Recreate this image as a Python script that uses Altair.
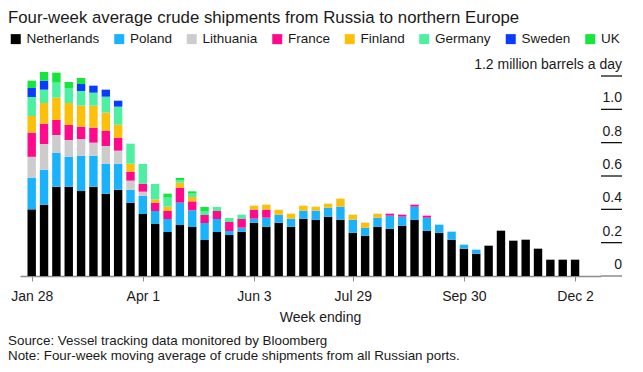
import json
import altair as alt
import pandas as pd

weeks = ["Jan 28", "Feb 4", "Feb 11", "Feb 18", "Feb 25", "Mar 4", "Mar 11", "Mar 18", "Mar 25",
         "Apr 1", "Apr 8", "Apr 15", "Apr 22", "Apr 29", "May 6", "May 13", "May 20", "May 27",
         "Jun 3", "Jun 10", "Jun 17", "Jun 24", "Jul 1", "Jul 8", "Jul 15", "Jul 22",
         "Jul 29", "Aug 5", "Aug 12", "Aug 19", "Aug 26", "Sep 2", "Sep 9", "Sep 16", "Sep 23",
         "Sep 30", "Oct 7", "Oct 14", "Oct 21", "Oct 28", "Nov 4", "Nov 11", "Nov 18", "Nov 25",
         "Dec 2"]
tick_labels = ["Jan 28", "Apr 1", "Jun 3", "Jul 29", "Sep 30", "Dec 2"]
y_ticks = [0, 0.2, 0.4, 0.6, 0.8, 1.0, 1.2]
y_tick_text = ["0", "0.2", "0.4", "0.6", "0.8", "1.0", "1.2 million barrels a day"]

countries = ["Netherlands", "Poland", "Lithuania", "France", "Finland", "Germany", "Sweden", "UK"]
colors = ["#000000", "#1bb2fc", "#cccccc", "#ff0a8c", "#fcbf0a", "#4cf0a0", "#0a3cff", "#14e63c"]

netherlands = [0.40, 0.428, 0.536, 0.536, 0.51, 0.536, 0.494, 0.518, 0.44, 0.372,
               0.312, 0.264, 0.306, 0.294, 0.216, 0.264, 0.246, 0.266, 0.32, 0.296,
               0.32, 0.296, 0.344, 0.338, 0.356, 0.338, 0.26, 0.242, 0.296, 0.284,
               0.302, 0.338, 0.272, 0.26, 0.218, 0.164, 0.134, 0.182, 0.272, 0.212,
               0.218, 0.164, 0.098, 0.098, 0.098]
poland = [0.19, 0.21, 0.202, 0.18, 0.212, 0.186, 0.18, 0.156, 0.078, 0.11,
          0.078, 0.078, 0.134, 0.10, 0.102, 0.078, 0.024, 0.024, 0.024, 0.054,
          0.048, 0.048, 0.048, 0.054, 0.054, 0.078, 0.078, 0.048, 0.054, 0.078,
          0.054, 0.078, 0.078, 0.048, 0.048, 0.024, 0.024, 0, 0, 0,
          0, 0, 0, 0, 0]
lithuania = [0.125, 0.154, 0.108, 0.10, 0.10, 0.078, 0.106, 0.078, 0.054, 0.024,
             0, 0, 0, 0, 0, 0, 0, 0, 0, 0,
             0, 0, 0, 0, 0, 0, 0, 0, 0, 0,
             0, 0, 0, 0, 0, 0, 0, 0, 0, 0,
             0, 0, 0, 0, 0]
france = [0.145, 0.122, 0.09, 0.09, 0.074, 0.09, 0.092, 0.078, 0.054, 0.048,
          0.05, 0.048, 0.09, 0.054, 0.048, 0.048, 0.054, 0.052, 0.054, 0.048,
          0, 0, 0, 0, 0, 0, 0, 0, 0, 0.012,
          0.012, 0.012, 0.012, 0, 0, 0, 0, 0, 0, 0,
          0, 0, 0, 0, 0]
finland = [0.10, 0.124, 0.134, 0.132, 0.126, 0.132, 0.108, 0.078, 0.048, 0,
           0.02, 0.026, 0.03, 0.026, 0, 0, 0, 0, 0.024, 0.03,
           0.03, 0.03, 0.03, 0.024, 0.024, 0.048, 0.03, 0.03, 0.024, 0,
           0, 0, 0, 0, 0, 0, 0, 0, 0, 0,
           0, 0, 0, 0, 0]
germany = [0.114, 0.08, 0.09, 0.09, 0.088, 0.078, 0.096, 0.108, 0.12, 0.118,
           0.092, 0.054, 0.014, 0.02, 0.024, 0.024, 0.024, 0.026, 0, 0,
           0, 0, 0, 0, 0, 0, 0, 0, 0, 0,
           0, 0, 0, 0, 0, 0, 0, 0, 0, 0,
           0, 0, 0, 0, 0]
sweden = [0.054, 0.054, 0, 0, 0.042, 0.042, 0.042, 0.036, 0, 0,
          0, 0, 0, 0, 0, 0, 0, 0, 0, 0,
          0, 0, 0, 0, 0, 0, 0, 0, 0, 0,
          0, 0, 0, 0, 0, 0, 0, 0, 0, 0,
          0, 0, 0, 0, 0]
uk = [0.044, 0.052, 0.06, 0.036, 0.036, 0, 0, 0, 0, 0,
      0, 0.024, 0.014, 0.014, 0.024, 0, 0, 0, 0, 0,
      0, 0, 0, 0, 0, 0, 0, 0, 0, 0,
      0, 0, 0, 0, 0, 0, 0, 0, 0, 0,
      0, 0, 0, 0, 0]

series = [netherlands, poland, lithuania, france, finland, germany, sweden, uk]

rows = []
for k, (c, vals) in enumerate(zip(countries, series)):
    for i, v in enumerate(vals):
        if v > 0:
            rows.append({"i": i, "week": weeks[i], "country": c, "k": k, "value": v})
df = pd.DataFrame(rows)

tick_idx = [weeks.index(w) for w in tick_labels]
FONT = "Liberation Sans"
TXT = "#1a1a1a"
AXIS_GREY = "#8c8c8c"
W, H = 581, 200
TICK_LEN = 21

x_axis = alt.Axis(
    values=tick_idx,
    labelExpr=json.dumps(weeks) + "[datum.value]",
    title="Week ending",
    titleFontSize=14, titleFontWeight="normal", titleColor=TXT, titlePadding=7,
    titleAnchor="middle", titleX=300,
    labelFontSize=14, labelColor=TXT, labelPadding=8, labelFlush=False,
    domainColor=AXIS_GREY, domainWidth=1.5,
    tickColor=AXIS_GREY, tickSize=5, tickWidth=1,
    grid=False,
)

y_scale = alt.Scale(domain=[0, 1.2], nice=False)

bars = alt.Chart(df).mark_bar(size=8.4).encode(
    x=alt.X("i:Q", scale=alt.Scale(domain=[-0.947, 46.10], nice=False, zero=False, padding=0),
            axis=x_axis),
    y=alt.Y("value:Q", stack="zero", scale=y_scale, axis=None),
    color=alt.Color(
        "country:N",
        scale=alt.Scale(domain=countries, range=colors),
        sort=countries,
        legend=alt.Legend(
            title=None, orient="none", legendX=-11, legendY=-44,
            direction="horizontal", columns=8,
            symbolType="square", symbolSize=100, symbolStrokeWidth=0,
            labelFontSize=13.5, labelColor=TXT, labelOffset=4, columnPadding=12.5, padding=0,
        ),
    ),
    order=alt.Order("k:Q", sort="ascending"),
)

# right-hand value scale: short tick lines with labels above them
tick_df = pd.DataFrame({"v": y_ticks, "label": y_tick_text})
tick_rules = alt.Chart(tick_df).transform_filter("datum.v > 0").mark_rule(
    color="#000000", strokeWidth=1.2
).encode(
    y=alt.Y("v:Q", scale=y_scale, axis=None),
    x=alt.value(W), x2=alt.value(W + TICK_LEN),
)
base_ext = alt.Chart(tick_df).transform_filter("datum.v == 0").mark_rule(
    color=AXIS_GREY, strokeWidth=1.5
).encode(
    y=alt.Y("v:Q", scale=y_scale, axis=None),
    x=alt.value(W), x2=alt.value(W + TICK_LEN),
)
tick_text = alt.Chart(tick_df).mark_text(
    align="right", baseline="alphabetic", dy=-7, fontSize=14, color=TXT, font=FONT
).encode(
    y=alt.Y("v:Q", scale=y_scale, axis=None),
    x=alt.value(W + TICK_LEN),
    text=alt.Text("label:N"),
)

footer = alt.Chart(alt.Data(values=[{}])).mark_text(
    align="left", baseline="top", fontSize=13.4, lineHeight=15, color=TXT, font=FONT,
    text=["Source: Vessel tracking data monitored by Bloomberg",
          "Note: Four-week moving average of crude shipments from all Russian ports."],
).encode(x=alt.value(-12), y=alt.value(258))

chart = alt.layer(bars, tick_rules, base_ext, tick_text, footer).properties(
    width=W, height=H,
    padding={"top": 2, "left": 0, "right": 0, "bottom": 0},
    title=alt.TitleParams(
        "Four-week average crude shipments from Russia to northern Europe",
        anchor="start", frame="bounds", fontSize=16.8, fontWeight="normal", color=TXT, font=FONT, offset=5,
    ),
).configure(font=FONT).configure_view(stroke=None)

chart.save("out.html", embed_options={"renderer": "svg", "actions": False})
